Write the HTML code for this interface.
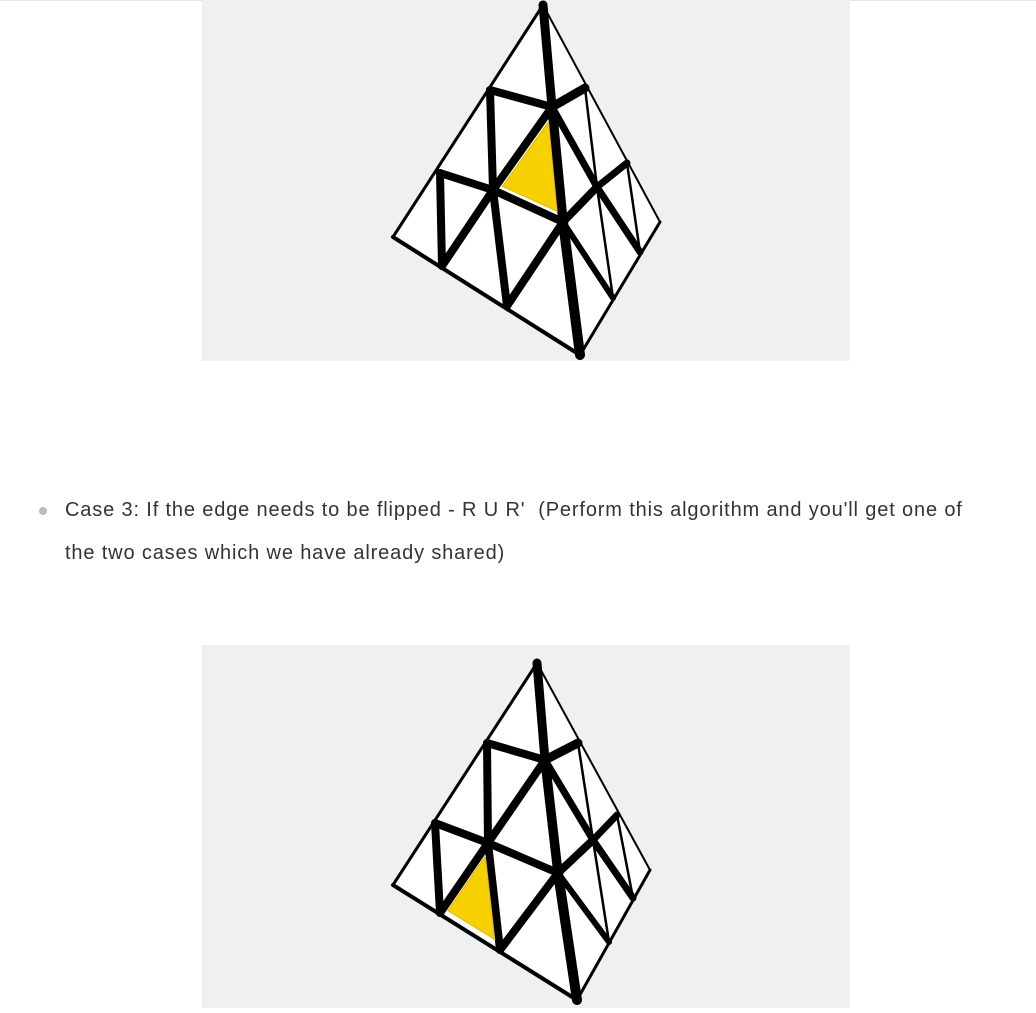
<!DOCTYPE html>
<html><head><meta charset="utf-8"><style>
body{margin:0;width:1036px;height:1012px;background:#fff;position:relative;overflow:hidden;font-family:"Liberation Sans",sans-serif;}
.img{position:absolute;left:202px;width:648px;background:#f0f0f0;}
.t{position:absolute;left:65px;font-size:20px;color:#333;letter-spacing:0.85px;white-space:nowrap;}
</style></head><body>
<div style="position:absolute;left:0;top:0;width:1036px;height:1px;background:#e6e6e6"></div>
<div class="img" style="top:0;height:361px"><svg id="s1" width="648" height="361"></svg></div>
<div style="position:absolute;left:39px;top:507px;width:8px;height:8px;border-radius:50%;background:#bbb"></div>
<div class="t" style="top:499px">Case 3: If the edge needs to be flipped - R U R'&nbsp; (Perform this algorithm and you'll get one of</div>
<div class="t" style="top:542px">the two cases which we have already shared)</div>
<div class="img" style="top:645px;height:363px"><svg id="s2" width="648" height="363"></svg></div>
<script>
const NS="http://www.w3.org/2000/svg";
function el(svg,tag,attrs){const e=document.createElementNS(NS,tag);for(const k in attrs)e.setAttribute(k,attrs[k]);svg.appendChild(e);return e;}
function draw(svg,ox,oy,N,yc){
  const p={};for(const k in N)p[k]=[N[k][0]-ox,N[k][1]-oy];
  const pts=a=>a.map(k=>p[k].join(',')).join(' ');
  const f=el(svg,'polygon',{points:pts(['A','L','B','R']),fill:'#fff'});
  
  const line=(a,b,w)=>el(svg,'line',{x1:p[a][0],y1:p[a][1],x2:p[b][0],y2:p[b][1],stroke:'#000','stroke-width':w,'stroke-linecap':'round'});
  [['P10','P01'],['P20','P11'],['P11','P02'],['P01','P11'],['P11','P21'],['P02','P12'],['P10','P11'],['P11','P12'],['P20','P21']].forEach(s=>line(s[0],s[1],8));
  [['P01','R10',9],['P02','R11',8],['R11','R20',7],['P01','R11',7],['R11','R21',7],['P02','R12',6],['R10','R11',2.5],['R11','R12',2.5],['R20','R21',2.5]].forEach(s=>line(s[0],s[1],s[2]));
  line('A','P01',9);line('P01','P02',9.5);line('P02','B',10);
  line('A','L',3);line('L','B',4);line('A','R',2);line('R','B',3);
  const c=yc.map(k=>p[k]);
  const cx=(c[0][0]+c[1][0]+c[2][0])/3, cy=(c[0][1]+c[1][1]+c[2][1])/3;
  const y=el(svg,'polygon',{points:c.map(q=>[cx+(q[0]-cx)*0.78,cy+(q[1]-cy)*0.78].join(',')).join(' '),fill:'#f7d000','stroke':'#e0b800','stroke-width':1});
  
}
draw(document.getElementById('s1'),202,0,{A:[543,5],P10:[490,90],P01:[552,107],P20:[440,173],P11:[493,190],P02:[563,222],L:[393,237],P21:[442,266],P12:[507,306],B:[580,355],R10:[585,88],R20:[627,163],R11:[597,187],R21:[640,252],R12:[613,298],R:[660,222]},['P01','P11','P02']);
draw(document.getElementById('s2'),202,645,{A:[537,663],P10:[487,743],P01:[545,760],P20:[435,823],P11:[488,843],P02:[558,873],L:[393,885],P21:[440,913],P12:[500,950],B:[577,1000],R10:[578,743],R20:[617,815],R11:[593,840],R21:[633,898],R12:[609,942],R:[650,870]},['P11','P21','P12']);
</script>
</body></html>
